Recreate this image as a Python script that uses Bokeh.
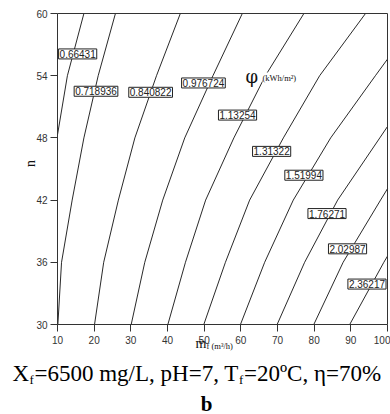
import math
from bokeh.plotting import figure
from bokeh.models import Range1d, Label, FixedTicker, LinearAxis
from bokeh.embed import file_html
from bokeh.resources import INLINE

# ---------------- data ----------------
levels = ["0.66431", "0.718936", "0.840822", "0.976724", "1.13254",
          "1.31322", "1.51994", "1.76271", "2.02987", "2.36217"]

# contour lines (m_f, n)
c1_m = [17.2, 12.7, 10.0];                     c1_n = [60, 54, 48.3]
c2_m = [25.8, 21.1, 17.2, 14.0, 11.1, 10.1];   c2_n = [60, 54, 48, 42, 36, 30]
c3_m = [43.5, 37.0, 31.1, 26.6, 22.6, 20.1];   c3_n = [60, 54, 48, 42, 36, 30]
c4_m = [60.4, 52.4, 44.7, 38.7, 33.8, 30.1];   c4_n = [60, 54, 48, 42, 36, 30]
c5_m = [77.2, 66.7, 58.1, 50.4, 44.9, 40.1];   c5_n = [60, 54, 48, 42, 36, 30]
c6_m = [94.0, 81.5, 71.6, 62.4, 55.8, 49.9];   c6_n = [60, 54, 48, 42, 36, 30]
c7_m = [100.0, 96.7, 84.5, 74.3, 66.5, 59.9];  c7_n = [55.6, 54, 48, 42, 36, 30]
c8_m = [100.0, 97.9, 86.4, 77.4, 69.9];        c8_n = [49.1, 48, 42, 36, 30]
c9_m = [100.0, 98.1, 87.9, 79.9];              c9_n = [43.1, 42, 36, 30]
c10_m = [100.0, 99.0, 89.7];                   c10_n = [36.6, 36, 30]

# contour label positions (m_f, n)
lab_m = [15.5, 20.5, 35.4, 49.8, 59.1, 68.4, 77.2, 83.5, 89.1, 94.4]
lab_n = [56.1, 52.5, 52.4, 53.3, 50.2, 46.7, 44.4, 40.7, 37.3, 33.9]

x_ticks = [10, 20, 30, 40, 50, 60, 70, 80, 90, 100]
y_ticks = [30, 36, 42, 48, 54, 60]

# ---------------- layout helpers ----------------
W, H = 390, 414
L, R, T, B = 57, 387, 13, 324          # plot box in page pixels
X0, X1, Y0, Y1 = 10, 100, 30, 60
sx = (R - L) / (X1 - X0)
sy = (B - T) / (Y1 - Y0)
xr = Range1d(X0 - L / sx, X1 + (W - R) / sx)
yr = Range1d(Y0 - (H - B) / sy, Y1 + T / sy)

def dx(px):
    return X0 + (px - L) / sx

def dy(py):
    return Y1 - (py - T) / sy

p = figure(width=W, height=H, output_backend="svg", toolbar_location=None,
           x_range=xr, y_range=yr, min_border=0,
           min_border_left=0, min_border_right=0,
           min_border_top=0, min_border_bottom=0)
p.background_fill_color = "white"
p.border_fill_color = "white"
p.outline_line_color = None
p.xgrid.visible = False
p.ygrid.visible = False

ax_col = "#333333"
for ax in (p.xaxis[0], p.yaxis[0]):
    ax.axis_line_color = ax_col
    ax.major_tick_line_color = ax_col
    ax.major_tick_out = 7
    ax.major_tick_in = 0
    ax.minor_tick_line_color = None
    ax.major_label_text_font = "Liberation Sans"
    ax.major_label_text_font_size = "10px"
    ax.major_label_text_color = "#333333"

p.xaxis[0].fixed_location = Y0
p.xaxis[0].bounds = (X0, X1)
p.yaxis[0].fixed_location = X0
p.yaxis[0].bounds = (Y0, Y1)
p.xaxis.ticker = FixedTicker(ticks=x_ticks)
p.yaxis.ticker = FixedTicker(ticks=y_ticks)
p.xaxis.major_label_text_align = "right"
p.xaxis.major_label_standoff = 4
p.yaxis.major_label_standoff = 3

# top and right box edges
top_ax = LinearAxis(fixed_location=Y1, bounds=(X0, X1), ticker=FixedTicker(ticks=[]),
                    axis_line_color=ax_col, major_label_text_font_size="0px",
                    minor_tick_line_color=None, major_tick_line_color=None)
right_ax = LinearAxis(fixed_location=X1, bounds=(Y0, Y1), ticker=FixedTicker(ticks=[]),
                      axis_line_color=ax_col, major_label_text_font_size="0px",
                      minor_tick_line_color=None, major_tick_line_color=None)
p.add_layout(top_ax, "above")
p.add_layout(right_ax, "right")

xs = [c1_m, c2_m, c3_m, c4_m, c5_m, c6_m, c7_m, c8_m, c9_m, c10_m]
ys = [c1_n, c2_n, c3_n, c4_n, c5_n, c6_n, c7_n, c8_n, c9_n, c10_n]
p.multi_line(xs=xs, ys=ys, line_color="#111111", line_width=0.9)

# contour labels with boxes
for m, n, t in zip(lab_m, lab_n, levels):
    p.add_layout(Label(x=m, y=n, text=t, text_align="center", text_baseline="middle",
                       text_font="Liberation Sans", text_font_size="10px",
                       text_color="#222222",
                       background_fill_color="white", border_line_color="#222222",
                       border_line_width=1, padding=1))

serif = "Liberation Serif"

def txt(t, px, py, fs, font=serif, align="left", style="normal", bg=None,
        angle=0.0, color="#111111"):
    p.add_layout(Label(x=dx(px), y=dy(py), text=t, text_font=font,
                       text_font_size=fs, text_font_style=style, text_color=color,
                       text_align=align, text_baseline="middle", angle=angle,
                       background_fill_color=bg))

# phi legend text
txt("φ", 245, 76, "18px", font="DejaVu Serif", bg="white")
txt("(kWh/m²)", 262, 77, "8.5px", bg="white")

# axis titles
txt("m", 195, 342.5, "14px")
txt("f (m³/h)", 206, 345, "8.5px")
txt("n", 30, 163, "14px", align="center", angle=math.pi / 2)

# caption
txt("X", 12, 372.5, "23px", color="black")
txt("f", 29, 378.5, "13px", color="black")
txt("=6500 mg/L, pH=7, T", 34, 372.5, "23px", color="black")
txt("f", 238.5, 378.5, "13px", color="black")
txt("=20ºC, η=70%", 243.5, 372.5, "23px", color="black")
txt("b", 206, 403, "21px", align="center", style="bold", color="black")

open("out.html", "w").write(file_html(p, INLINE))
